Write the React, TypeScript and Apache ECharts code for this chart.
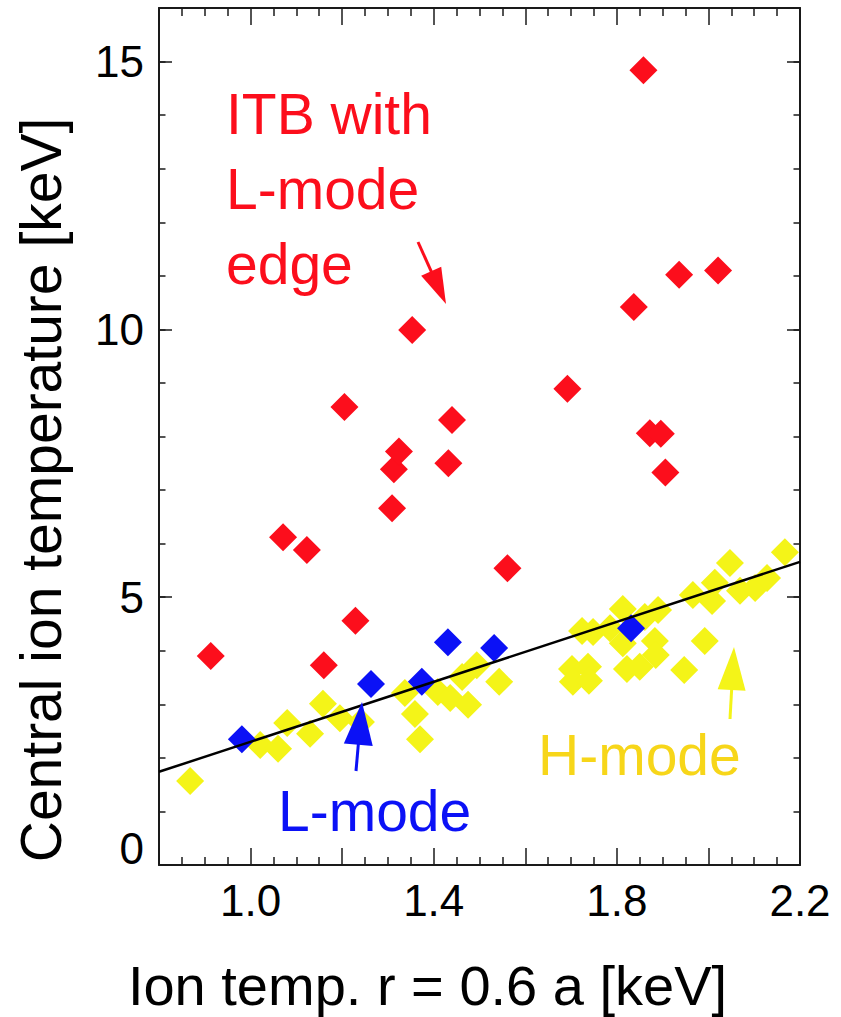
import React, { useEffect, useRef } from "react";
import * as echarts from "echarts";

// ---- tick labels ----
const xTickLabels = ["1.0", "1.4", "1.8", "2.2"];
const yTickLabels = ["0", "5", "10", "15"];

// ---- ITB with L-mode edge (red) ----
const itbX = [0.913, 1.071, 1.123, 1.16, 1.205, 1.229, 1.309, 1.313, 1.324, 1.353, 1.432, 1.44, 1.561, 1.692, 1.837, 1.858, 1.872, 1.896, 1.906, 1.936, 2.021];
const itbY = [3.9, 6.12, 5.88, 3.73, 8.55, 4.56, 6.66, 7.39, 7.72, 9.99, 7.5, 8.31, 5.54, 8.89, 10.42, 14.84, 8.06, 8.05, 7.33, 11.02, 11.1];

// ---- L-mode (blue) ----
const lModeX = [0.981, 1.263, 1.374, 1.431, 1.532, 1.831];
const lModeY = [2.35, 3.38, 3.42, 4.16, 4.05, 4.42];

// ---- H-mode (yellow) ----
const hModeX = [0.868, 1.021, 1.06, 1.08, 1.13, 1.158, 1.195, 1.241, 1.337, 1.359, 1.37, 1.409, 1.436, 1.475, 1.462, 1.494, 1.543, 1.702, 1.737, 1.704, 1.739, 1.724, 1.748, 1.785, 1.813, 1.813, 1.822, 1.85, 1.861, 1.883, 1.885, 1.89, 1.947, 1.966, 1.992, 2.008, 2.014, 2.047, 2.069, 2.102, 2.128, 2.167];
const hModeY = [1.57, 2.24, 2.17, 2.65, 2.45, 3.01, 2.74, 2.67, 3.21, 2.82, 2.35, 3.23, 3.12, 2.99, 3.51, 3.73, 3.42, 3.66, 3.7, 3.42, 3.44, 4.37, 4.35, 4.42, 4.78, 4.14, 3.66, 3.7, 4.63, 4.18, 3.92, 4.76, 3.64, 5.04, 4.18, 4.93, 5.27, 5.64, 5.12, 5.17, 5.36, 5.84];

// ---- regression line ----
const fitX = [0.8, 2.2];
const fitY = [1.74, 5.66];

const FONT = '"Liberation Sans", Arial, Helvetica, sans-serif';
const RED = "#fc0e1c";
const BLUE = "#0b11f6";
const YELLOW = "#f4f418";
const GOLD = "#f7d619";
const INK = "#1a1a1a";

function pairs(xs: number[], ys: number[]) {
  return xs.map((x, i) => [x, ys[i]]);
}

function arrow(tx: number, ty: number, hx: number, hy: number, headLen: number, halfW: number, color: string) {
  const dx = hx - tx;
  const dy = hy - ty;
  const L = Math.hypot(dx, dy);
  const ux = dx / L;
  const uy = dy / L;
  const bx = hx - ux * headLen;
  const by = hy - uy * headLen;
  const px = -uy;
  const py = ux;
  return [
    { type: "line", z: 100, shape: { x1: tx, y1: ty, x2: bx + ux * 2, y2: by + uy * 2 }, style: { stroke: color, lineWidth: 3 } },
    {
      type: "polygon",
      z: 100,
      shape: { points: [[hx, hy], [bx + px * halfW, by + py * halfW], [bx - px * halfW, by - py * halfW]] },
      style: { fill: color },
    },
  ];
}

function label(text: string, x: number, y: number, color: string, size = 57) {
  return {
    type: "text",
    z: 100,
    x,
    y,
    style: {
      text,
      fill: color,
      fontSize: size,
      fontFamily: FONT,
      textAlign: "left",
      textVerticalAlign: "middle",
      align: "left",
      verticalAlign: "middle",
    },
  };
}

export default function App() {
  const ref = useRef<HTMLDivElement>(null);

  useEffect(() => {
    document.body.style.margin = "0";
    const chart = echarts.init(ref.current!, undefined, { renderer: "svg" });

    const axisLine = { show: true, onZero: false, lineStyle: { color: INK, width: 2 } };
    const tickLine = { color: INK, width: 1.5 };

    const xBase = {
      type: "value",
      min: 0.8,
      max: 2.2,
      interval: 0.2,
      axisLine,
      axisTick: { show: true, inside: true, length: 17, lineStyle: tickLine },
      minorTick: { show: true, splitNumber: 4, length: 8, lineStyle: tickLine },
      splitLine: { show: false },
      minorSplitLine: { show: false },
    };

    const yMajor = {
      type: "value",
      min: 0,
      max: 16,
      interval: 5,
      axisLine,
      axisTick: { show: true, inside: true, length: 13, lineStyle: tickLine },
      splitLine: { show: false },
    };
    const yMinor = {
      type: "value",
      min: 0,
      max: 16,
      interval: 1,
      axisLine: { show: false, onZero: false },
      axisTick: { show: true, inside: true, length: 6.5, lineStyle: tickLine },
      axisLabel: { show: false },
      splitLine: { show: false },
    };

    const option: any = {
      animation: false,
      backgroundColor: "#ffffff",
      grid: { left: 159, right: 41, top: 8, bottom: 152, containLabel: false, outerBoundsMode: "none" },
      xAxis: [
        {
          ...xBase,
          position: "bottom",
          axisLabel: {
            show: true,
            margin: 13,
            fontSize: 44,
            fontFamily: FONT,
            color: "#000",
            formatter: (v: number) => {
              const s = v.toFixed(1);
              return xTickLabels.includes(s) ? s : "";
            },
          },
          name: "Ion temp. r = 0.6 a [keV]",
          nameLocation: "middle",
          nameGap: 92,
          nameTextStyle: { fontSize: 56, fontFamily: FONT, color: "#000", padding: [0, 104, 0, 0] },
        },
        { ...xBase, position: "top", axisLabel: { show: false } },
      ],
      yAxis: [
        {
          ...yMajor,
          position: "left",
          axisLabel: {
            show: true,
            margin: 15,
            fontSize: 44,
            fontFamily: FONT,
            color: "#000",
            formatter: (v: number) => {
              const s = String(Math.round(v));
              if (Math.abs(v) < 1e-9) return "{z|0}";
              return yTickLabels.includes(s) && Math.abs(v - Math.round(v)) < 1e-9 ? s : "";
            },
            rich: { z: { fontSize: 44, fontFamily: FONT, color: "#000", padding: [0, 0, 34, 0] } },
          },
          name: "Central ion temperature [keV]",
          nameLocation: "middle",
          nameGap: 90,
          nameTextStyle: { fontSize: 57, fontFamily: FONT, color: "#000", padding: [0, 107, 0, 0] },
        },
        { ...yMinor, position: "left" },
        { ...yMajor, position: "right", axisLabel: { show: false } },
        { ...yMinor, position: "right" },
      ],
      series: [
        {
          type: "scatter",
          name: "H-mode",
          data: pairs(hModeX, hModeY),
          symbol: "diamond",
          symbolSize: 28,
          itemStyle: { color: YELLOW, opacity: 1 },
          z: 2,
          silent: true,
        },
        {
          type: "scatter",
          name: "ITB with L-mode edge",
          data: pairs(itbX, itbY),
          symbol: "diamond",
          symbolSize: 28,
          itemStyle: { color: RED, opacity: 1 },
          z: 3,
          silent: true,
        },
        {
          type: "scatter",
          name: "L-mode",
          data: pairs(lModeX, lModeY),
          symbol: "diamond",
          symbolSize: 28,
          itemStyle: { color: BLUE, opacity: 1 },
          z: 4,
          silent: true,
        },
        {
          type: "line",
          name: "fit",
          data: pairs(fitX, fitY),
          symbol: "none",
          lineStyle: { color: "#000", width: 2.5 },
          z: 5,
          silent: true,
        },
      ],
      graphic: {
        elements: [
          label("ITB with", 226, 114, RED),
          label("L-mode", 226, 189, RED),
          label("edge", 226, 264, RED),
          label("H-mode", 538, 755, GOLD),
          label("L-mode", 278, 811, BLUE),
          ...arrow(418, 242, 446, 304, 36, 11, RED),
          ...arrow(356, 771, 362, 702, 43, 14.5, BLUE),
          ...arrow(730, 719, 734, 647, 43, 14, YELLOW),
        ],
      },
    };

    chart.setOption(option);
    return () => chart.dispose();
  }, []);

  return <div ref={ref} style={{ width: 841, height: 1017 }} />;
}
